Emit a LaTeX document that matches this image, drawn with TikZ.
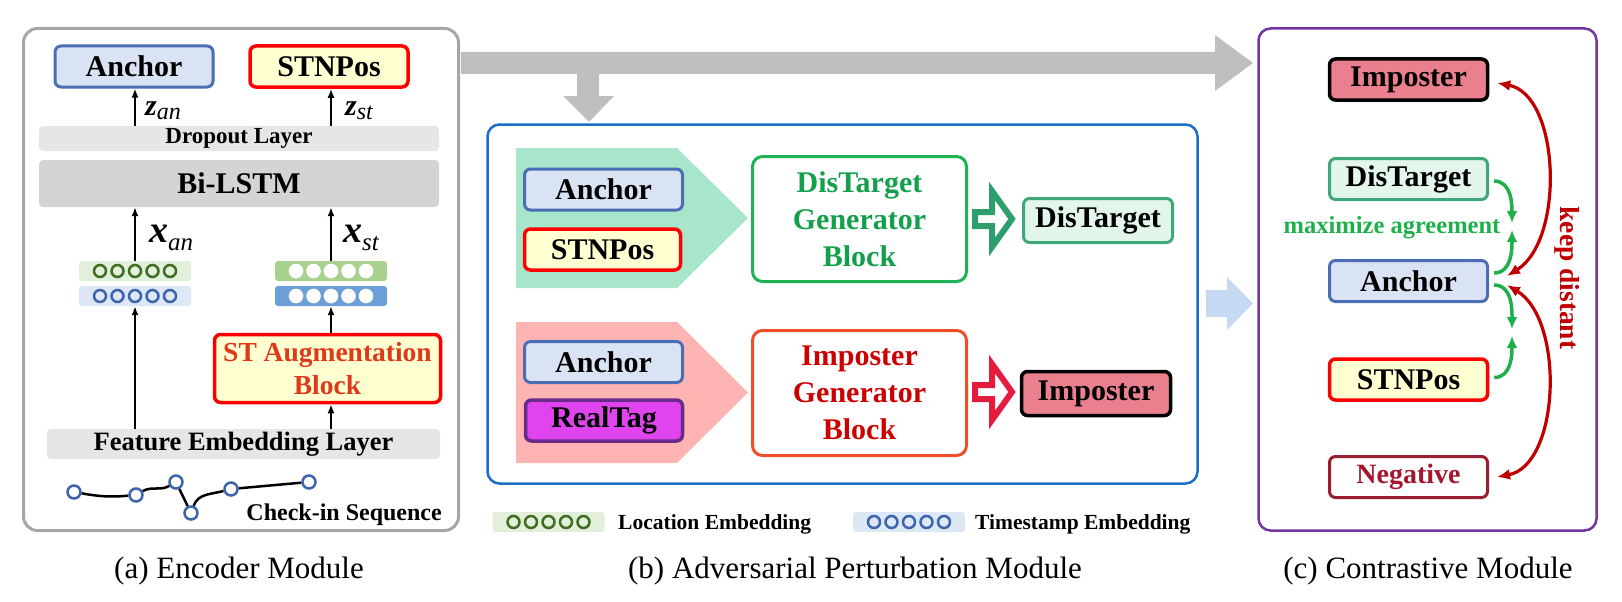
\documentclass[tikz,border=0pt]{standalone}
\usepackage{fontspec}
\setmainfont{Liberation Serif}
\usetikzlibrary{arrows.meta,calc}

\definecolor{frameA}{HTML}{A6A6A6}
\definecolor{frameB}{HTML}{1C6EC2}
\definecolor{frameC}{HTML}{7334A4}
\definecolor{flowG}{HTML}{BFBFBF}
\definecolor{flowB}{HTML}{C6D9F2}
\definecolor{ancF}{HTML}{DAE3F3}
\definecolor{ancD}{HTML}{4A6DB5}
\definecolor{stnF}{HTML}{FFFFD2}
\definecolor{stnD}{HTML}{FF0000}
\definecolor{dropF}{HTML}{E6E6E6}
\definecolor{lstmF}{HTML}{D4D4D4}
\definecolor{locF}{HTML}{E2EFDA}
\definecolor{locD}{HTML}{3F6E23}
\definecolor{locS}{HTML}{A9D18E}
\definecolor{timF}{HTML}{DDE7F5}
\definecolor{timD}{HTML}{3D65AE}
\definecolor{timS}{HTML}{6C9FD8}
\definecolor{augT}{HTML}{E0381A}
\definecolor{penG}{HTML}{A8E6CB}
\definecolor{penR}{HTML}{FFB4B4}
\definecolor{realF}{HTML}{E044EE}
\definecolor{realD}{HTML}{6A2A8A}
\definecolor{genDD}{HTML}{1DB254}
\definecolor{genDT}{HTML}{14A04A}
\definecolor{genID}{HTML}{F04E28}
\definecolor{genIT}{HTML}{CC0000}
\definecolor{holG}{HTML}{2E9E6C}
\definecolor{holR}{HTML}{E31C3D}
\definecolor{disF}{HTML}{E3F6EC}
\definecolor{disD}{HTML}{3FA77A}
\definecolor{impF}{HTML}{EA7F8E}
\definecolor{negD}{HTML}{9A1D32}
\definecolor{negT}{HTML}{A3172E}
\definecolor{keepR}{HTML}{C00000}
\definecolor{agrG}{HTML}{1EB04A}

\newcommand{\bfs}[1]{\bfseries\fontsize{#1}{#1}\selectfont}

\begin{document}
\begin{tikzpicture}[x=1pt,y=1pt,
  frame/.style={draw, rounded corners=14pt, line width=3pt, inner sep=0pt},
  tag/.style={draw, rounded corners=6pt, line width=3pt, minimum width=158,
    minimum height=41, inner sep=0pt, font=\bfs{30}},
  ancbox/.style={tag, fill=ancF, draw=ancD},
  stnbox/.style={tag, fill=stnF, draw=stnD, line width=3.5pt},
  disbox/.style={tag, fill=disF, draw=disD},
  impbox/.style={tag, fill=impF, draw=black},
  layer/.style={rounded corners=4pt, minimum width=400, inner sep=0pt},
  embbar/.style={rounded corners=3pt, minimum width=112, minimum height=20, inner sep=0pt},
  gen/.style={draw, rounded corners=10pt, line width=3pt, minimum width=214,
    minimum height=125, inner sep=0pt, align=center, font=\bfseries\fontsize{30}{37}\selectfont},
  arr/.style={line width=2pt, -{Latex[length=9pt,width=7pt]}},
  ck/.style={circle, draw=timD, line width=2.5pt, fill=white, minimum size=13, inner sep=0pt},
  seq/.style={line width=2.5pt},
  hollow/.style={line width=6pt, fill=white, line join=miter},
  agree/.style={line width=3.5pt, draw=agrG, -{Latex[length=12pt,width=11pt,fill=agrG]}},
  apart/.style={line width=3.2pt, draw=keepR, {Latex[length=13pt,width=11pt,fill=keepR]}-{Latex[length=13pt,width=11pt,fill=keepR]}},
  legtxt/.style={anchor=base west, inner sep=0pt, font=\bfs{21.5}},
  caption/.style={anchor=base, inner sep=0pt, font=\fontsize{31}{31}\selectfont}
]
\useasboundingbox (0,0) rectangle (1622,-602);

% ---------- module frames ----------
\node[frame, draw=frameA, minimum width=435, minimum height=502] (fa) at (241,-279.5) {};
\node[frame, draw=frameB, rounded corners=12pt, line width=2.5pt, minimum width=710, minimum height=359] (fb) at (842.5,-304) {};
\node[frame, draw=frameC, rounded corners=12pt, line width=2.5pt, minimum width=338, minimum height=502] (fc) at (1427.5,-279.5) {};

% ---------- wide grey flow arrow ----------
\fill[flowG] (461,-52) -- (1215,-52) -- (1215,-35) -- (1253,-63) -- (1215,-91) -- (1215,-74)
  -- (599,-74) -- (599,-96) -- (614,-96) -- (589,-122) -- (563,-96) -- (577,-96) -- (577,-74)
  -- (461,-74) -- cycle;
% light blue flow arrow into the contrastive module
\fill[flowB] (1206,-290) -- (1227,-290) -- (1227,-277) -- (1253,-303.5) -- (1227,-330)
  -- (1227,-317) -- (1206,-317) -- cycle;

% ---------- (a) encoder ----------
\node[ancbox] (eAnc) at (134,-66.5) {Anchor};
\node[stnbox] (eStn) at (329,-66.5) {STNPos};
\node[layer, fill=dropF, minimum height=25, font=\bfs{23}] (drop) at (239,-138.5) {Dropout Layer};
\node[layer, fill=lstmF, minimum height=47, font=\bfs{30}] (lstm) at (239,-183.5) {Bi-LSTM};
\node[embbar, fill=locF] (lLoc) at (135,-271) {};
\node[embbar, fill=timF] (lTim) at (135,-296) {};
\node[embbar, fill=locS] (rLoc) at (331,-271) {};
\node[embbar, fill=timS] (rTim) at (331,-296) {};
\foreach \dx in {-35,-17.5,0,17.5,35} {
  \draw[locD, line width=2.5pt] ([xshift=\dx pt]lLoc.center) circle (6);
  \draw[timD, line width=2.5pt] ([xshift=\dx pt]lTim.center) circle (6);
  \fill[white] ([xshift=\dx pt]rLoc.center) circle (7.3);
  \fill[white] ([xshift=\dx pt]rTim.center) circle (7.3);
}
\node[stnbox, minimum width=226, minimum height=68, align=center, text=augT,
  font=\bfseries\fontsize{27.5}{33}\selectfont] (aug) at (327.5,-368.5) {ST Augmentation\\Block};
\node[layer, fill=dropF, minimum width=393, minimum height=30, font=\bfs{26.5}] (feat) at (243.5,-444) {Feature Embedding Layer};

\draw[arr] (lLoc.north |- drop.north) -- (lLoc.north |- eAnc.south);
\draw[arr] (rLoc.north |- drop.north) -- (rLoc.north |- eStn.south);
\draw[arr] (lLoc.north) -- (lLoc.north |- lstm.south);
\draw[arr] (rLoc.north) -- (rLoc.north |- lstm.south);
\draw[arr] (lTim.south |- feat.north) -- (lTim.south);
\draw[arr] (rTim.south |- feat.north) -- (rTim.south |- aug.south);
\draw[arr] (rTim.south |- aug.north) -- (rTim.south);

\node[anchor=base west, inner sep=0pt] (zan) at (145,-115)
  {{\bfseries\itshape\fontsize{30}{30}\selectfont z}\raisebox{-4pt}{\itshape\fontsize{24}{24}\selectfont an}};
\node[anchor=base west, inner sep=0pt] (zst) at (345,-115)
  {{\bfseries\itshape\fontsize{30}{30}\selectfont z}\raisebox{-4pt}{\itshape\fontsize{24}{24}\selectfont st}};
\node[anchor=base west, inner sep=0pt] (xan) at (149,-242)
  {{\bfseries\itshape\fontsize{38}{38}\selectfont x}\raisebox{-8pt}{\itshape\fontsize{25}{25}\selectfont an}};
\node[anchor=base west, inner sep=0pt] (xst) at (343,-242)
  {{\bfseries\itshape\fontsize{38}{38}\selectfont x}\raisebox{-8pt}{\itshape\fontsize{25}{25}\selectfont st}};

% check-in sequence
\node[ck] (c1) at (74,-492) {};
\node[ck] (c2) at (136,-495) {};
\node[ck] (c3) at (176,-482) {};
\node[ck] (c4) at (191,-513) {};
\node[ck] (c5) at (231,-489) {};
\node[ck] (c6) at (309,-482) {};
\draw[seq] (c1) to[out=-10,in=185] (c2);
\draw[seq] (c2) to[out=30,in=210] (c3);
\draw[seq] (c3) -- (c4);
\draw[seq] (c4) to[out=70,in=195] (c5);
\draw[seq] (c5) -- (c6);
\node[anchor=base east, inner sep=0pt, font=\bfs{24}] (cks) at (442,-520) {Check-in Sequence};

\node[caption] (capa) at (239,-578) {(a) Encoder Module};

% ---------- (b) adversarial perturbation ----------
\fill[penG] (516,-148) -- (677,-148) -- (748,-218) -- (677,-288) -- (516,-288) -- cycle;
\fill[penR] (516,-322) -- (677,-322) -- (748,-392.5) -- (677,-463) -- (516,-463) -- cycle;

\node[ancbox] (bAnc1) at (603.5,-189.5) {Anchor};
\node[stnbox, minimum width=156] (bStn) at (602.5,-249.5) {STNPos};
\node[ancbox] (bAnc2) at (603.5,-362) {Anchor};
\node[tag, fill=realF, draw=realD, line width=3.5pt, minimum width=157] (bReal) at (604,-420.5) {RealTag};

\node[gen, draw=genDD, text=genDT] (genD) at (859.5,-219) {DisTarget\\Generator\\Block};
\node[gen, draw=genID, text=genIT] (genI) at (859.5,-393) {Imposter\\Generator\\Block};

\node[disbox, minimum width=149, minimum height=44] (dOut) at (1098,-220.5) {DisTarget};
\node[impbox, line width=3.5pt, minimum width=149, minimum height=44] (iOut) at (1096,-393.5) {Imposter};

% hollow block arrows from the generators to their outputs
\draw[hollow, draw=holG] ([xshift=7pt,yshift=7pt]genD.east) -- ++(17,0) -- ++(0,21) -- ++(20,-28)
  -- ++(-20,-28) -- ++(0,21) -- ++(-17,0) -- cycle;
\draw[hollow, draw=holR] ([xshift=7pt,yshift=8pt]genI.east) -- ++(17,0) -- ++(0,21) -- ++(20,-28)
  -- ++(-20,-28) -- ++(0,21) -- ++(-17,0) -- cycle;

% legend
\node[embbar, fill=locF] (legLoc) at (548.5,-522) {};
\node[embbar, fill=timF] (legTim) at (909,-522) {};
\foreach \dx in {-35,-17.5,0,17.5,35} {
  \draw[locD, line width=2.5pt] ([xshift=\dx pt]legLoc.center) circle (6);
  \draw[timD, line width=2.5pt] ([xshift=\dx pt]legTim.center) circle (6);
}
\node[legtxt] (legLocT) at (618,-529) {Location Embedding};
\node[legtxt] (legTimT) at (975,-529) {Timestamp Embedding};

\node[caption] (capb) at (855,-578) {(b) Adversarial Perturbation Module};

% ---------- (c) contrastive ----------
\node[impbox, line width=3.5pt] (cImp) at (1408.5,-79.5) {Imposter};
\node[disbox] (cDis) at (1408.5,-179) {DisTarget};
\node[ancbox] (cAnc) at (1408.5,-281) {Anchor};
\node[stnbox] (cStn) at (1408.5,-379.5) {STNPos};
\node[tag, fill=white, draw=negD, text=negT, font=\bfs{28}] (cNeg) at (1408.5,-477) {Negative};

\node[anchor=base, inner sep=0pt, text=agrG, font=\bfs{24.5}] (agr) at (1392,-233) {maximize agreement};

\coordinate (m1a) at (1512,-223);
\coordinate (m1b) at (1512,-230);
\coordinate (m2a) at (1512,-329);
\coordinate (m2b) at (1512,-336);
\draw[agree] ([shift={(5,-2)}]cDis.east) to[out=0,in=90] (m1a);
\draw[agree] ([shift={(5,8)}]cAnc.east) to[out=0,in=-90] (m1b);
\draw[agree] ([shift={(5,-4)}]cAnc.east) to[out=0,in=90] (m2a);
\draw[agree] ([shift={(5,2)}]cStn.east) to[out=0,in=-90] (m2b);

\draw[apart] ([shift={(8,-3.5)}]cImp.east) .. controls +(63,-12) and +(58,36) .. ([shift={(18,5)}]cAnc.east);
\draw[apart] ([shift={(18,-4)}]cAnc.east) .. controls +(58,-35) and +(63,12) .. ([shift={(8,0)}]cNeg.east);

\node[rotate=-90, inner sep=0pt, text=keepR, font=\bfs{27.5}] (keep) at (1567,-278) {keep distant};

\node[caption] (capc) at (1428,-578) {(c) Contrastive Module};
\end{tikzpicture}
\end{document}
